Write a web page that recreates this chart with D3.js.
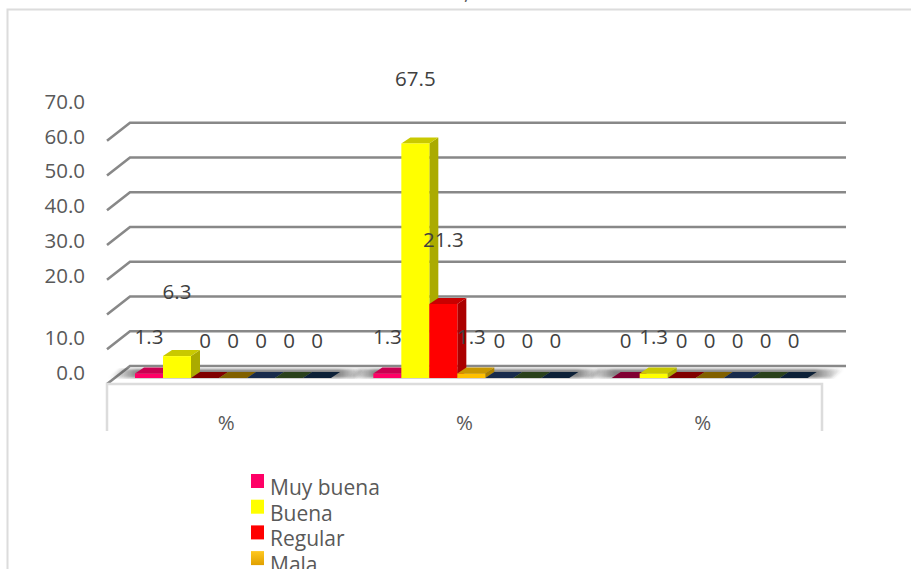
<!DOCTYPE html>
<html lang="es">
<head>
<meta charset="utf-8">
<style>
  html, body { margin: 0; padding: 0; background: #fff; overflow: hidden; }
  svg { display: block; }
  text { font-family: "Open Sans", sans-serif; }
</style>
<script src="https://cdn.jsdelivr.net/npm/d3@7"></script>
</head>
<body>
<svg id="chart" width="911" height="569"></svg>
<script>
// Chart data
const groups = ["g1", "g2", "g3"];
const groupLabels = ["%", "%", "%"];
const seriesNames = ["Muy buena", "Buena", "Regular", "Mala", "s5", "s6", "s7"];
const legendNames = ["Muy buena", "Buena", "Regular", "Mala"];
const seriesColors = ["#FF0066", "#FFFF00", "#FF0000", "#FFC000", "#2F5597", "#548235", "#17406D"];
const valuesG1 = [1.3, 6.3, 0, 0, 0, 0, 0];
const valuesG2 = [1.3, 67.5, 21.3, 1.3, 0, 0, 0];
const valuesG3 = [0, 1.3, 0, 0, 0, 0, 0];
const gridValues = [0, 10, 20, 30, 40, 50, 60, 70];
const tickLabels = ["70.0", "60.0", "50.0", "40.0", "30.0", "20.0", "10.0", "0.0"];
const tickValues = [70, 60, 50, 40, 30, 20, 10, 0];

const table = [valuesG1, valuesG2, valuesG3];
const svg = d3.select("#chart");
const fontSize = 20.5;

// Pseudo-3D plot geometry
const depthX = 9, depthY = 6;
const wallX = 130, wallRight = 846, floorFrontX = 107, floorBackDrop = 18;
const baseY = 378, backBaseY = 366, unit = 3.475;

const x0 = d3.scaleBand().domain(groups).range([107, 822]);
const x1 = d3.scaleBand().domain(seriesNames).range([28, 224]);
const y = d3.scaleLinear().domain([0, 70]).range([baseY, baseY - 70 * unit]);
const yBack = d3.scaleLinear().domain([0, 70]).range([backBaseY, backBaseY - 70 * unit]);

const defs = svg.append("defs");
const fade = defs.append("linearGradient").attr("id", "floorShade");
[[0, 0], [0.11, 0.6], [0.89, 0.6], [1, 0]].forEach(([o, a]) =>
  fade.append("stop").attr("offset", o).attr("stop-color", "#333").attr("stop-opacity", a));
defs.append("filter").attr("id", "soft").append("feGaussianBlur").attr("stdDeviation", 1.6);
const mala = defs.append("linearGradient").attr("id", "malaSwatch").attr("x2", 0).attr("y2", 1);
mala.append("stop").attr("offset", 0).attr("stop-color", "#FFC820");
mala.append("stop").attr("offset", 1).attr("stop-color", "#E0A000");

// Outer chart frame, open on the right and bottom
svg.append("path").attr("d", "M7.5,569V9.5H911").attr("fill", "none")
  .attr("stroke", "#dcdcdc").attr("stroke-width", 2);

// Clipped tail of the chart title
svg.append("text").attr("x", 464).attr("y", -1).attr("font-size", fontSize)
  .attr("fill", "#595959").text(",");

// Gridlines: a slanted side-wall segment plus the back-wall run
svg.append("g").selectAll("path").data(gridValues).join("path")
  .attr("d", v => d3.line()([[floorFrontX, yBack(v) + floorBackDrop], [wallX, yBack(v)], [wallRight, yBack(v)]]))
  .attr("fill", "none").attr("stroke", "#888").attr("stroke-width", 2.6);

// Floor front edge and category box
svg.append("path").attr("d", `M${floorFrontX},431V384H822V431`).attr("fill", "none")
  .attr("stroke", "#dcdcdc").attr("stroke-width", 2.5);

// Blurred shadow band under each cluster
svg.append("g").selectAll("path").data(groups).join("path")
  .attr("d", g => {
    const a = x0(g) + x1.range()[0], b = a + 196;
    return `M${a - 26},378L${a - 14},369H${b + 36}L${b + 24},378Z`;
  })
  .attr("fill", "url(#floorShade)").attr("filter", "url(#soft)");

// Bars with front, top and side faces
const barGroup = svg.append("g");
const shade = (c, k) => { const r = d3.rgb(c); return d3.rgb(r.r * k, r.g * k, r.b * k).formatHex(); };
groups.forEach((g, gi) => {
  seriesNames.forEach((s, si) => {
    const v = table[gi][si];
    const l = x0(g) + x1(s), w = x1.bandwidth(), r = l + w, t = y(v), c = seriesColors[si];
    const flat = v === 0;
    if (!flat) {
      barGroup.append("path")
        .attr("d", `M${r},${t}L${r + depthX},${t - depthY}V${baseY - depthY}L${r},${baseY}Z`)
        .attr("fill", shade(c, 0.67));
    }
    barGroup.append("path")
      .attr("d", `M${l},${t}L${l + depthX},${t - depthY}H${r + depthX}L${r},${t}Z`)
      .attr("fill", shade(c, flat ? 0.5 : 0.79));
    if (!flat) {
      barGroup.append("rect").attr("x", l).attr("y", t).attr("width", w).attr("height", baseY - t)
        .attr("fill", c);
    }
  });
});

// Value axis labels; the two lowest sit below their gridlines
const tickShift = v => v === 10 || v === 0 ? 6 : -22;
svg.append("g").selectAll("text").data(tickValues).join("text")
  .attr("x", 85).attr("y", v => yBack(v) + tickShift(v))
  .attr("text-anchor", "end").attr("dominant-baseline", "central")
  .attr("font-size", fontSize).attr("fill", "#595959")
  .text((v, i) => tickLabels[i]);

// Data labels lifted above each bar
const labelLift = v => v >= 5 ? 65 : v === 0 ? 38 : 37;
const labels = svg.append("g");
groups.forEach((g, gi) => {
  labels.selectAll(null).data(table[gi]).join("text")
    .attr("x", (v, si) => x0(g) + x1(seriesNames[si]) + x1.bandwidth() / 2)
    .attr("y", v => y(v) - labelLift(v))
    .attr("text-anchor", "middle").attr("dominant-baseline", "central")
    .attr("font-size", fontSize).attr("fill", "#404040")
    .text(v => v);
});

// Category labels
svg.append("g").selectAll("text").data(groups).join("text")
  .attr("x", g => x0(g) + x0.bandwidth() / 2).attr("y", 422)
  .attr("text-anchor", "middle").attr("dominant-baseline", "central")
  .attr("font-size", fontSize).attr("fill", "#595959")
  .text((g, i) => groupLabels[i]);

// Legend, running past the bottom edge of the page
const legend = svg.append("g").selectAll("g").data(legendNames).join("g")
  .attr("transform", (d, i) => `translate(251,${474 + i * 25.7})`);
legend.append("rect").attr("width", 13).attr("height", 14)
  .attr("fill", (d, i) => d === "Mala" ? "url(#malaSwatch)" : seriesColors[i]);
legend.append("text").attr("x", 19).attr("y", 21).attr("font-size", 21)
  .attr("fill", "#595959").text(d => d);
</script>
</body>
</html>
